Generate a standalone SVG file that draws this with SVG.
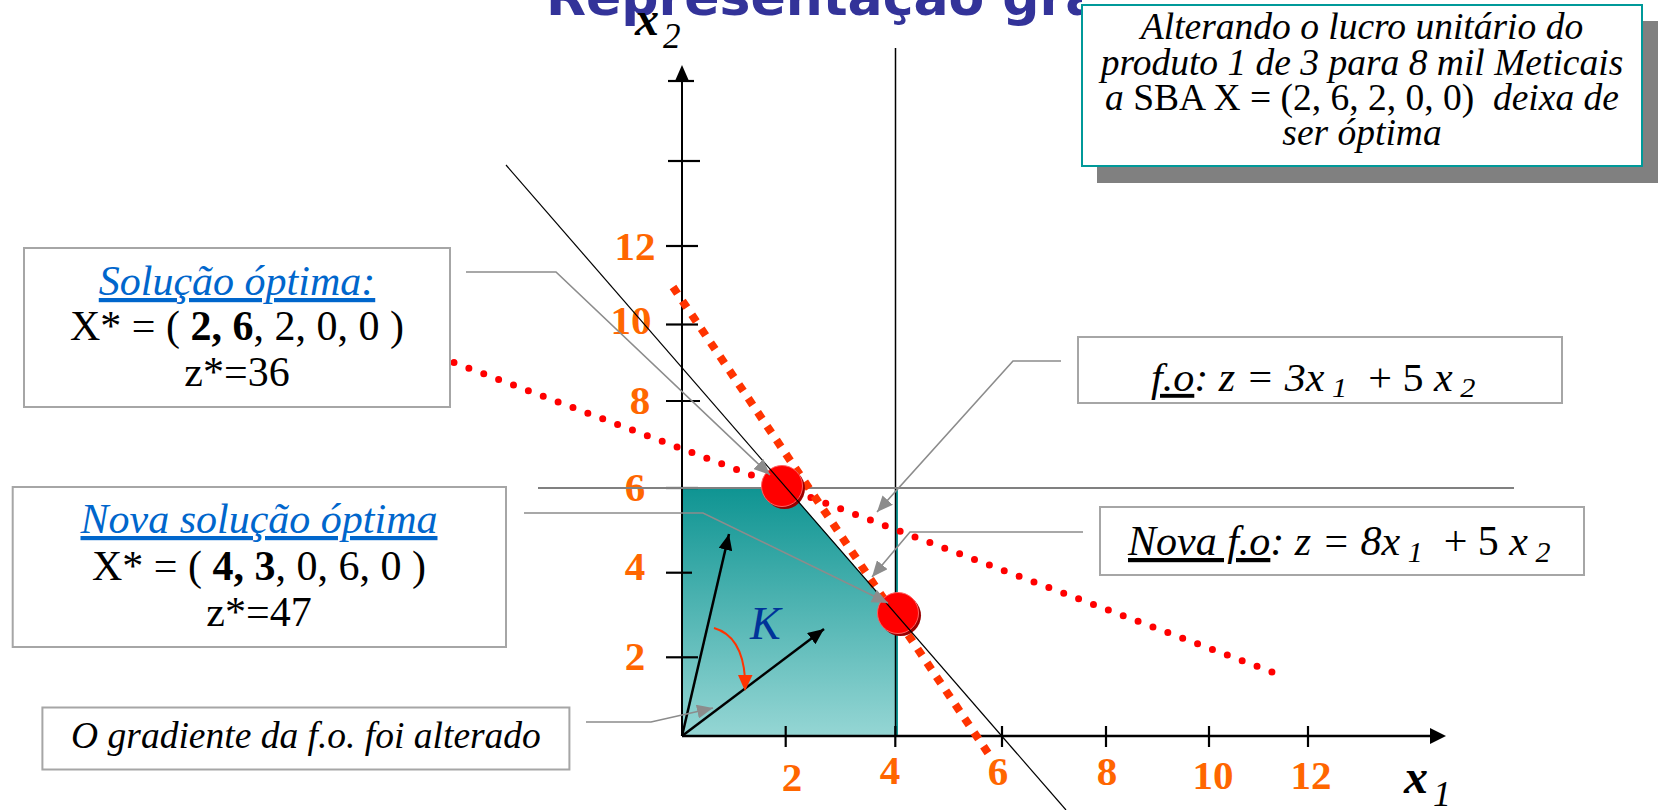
<svg xmlns="http://www.w3.org/2000/svg" width="1663" height="810" viewBox="0 0 1663 810">
<style>
.serif{font-family:"Liberation Serif","Times New Roman",serif;}
.it{font-style:italic;}
.tick{stroke:#000;stroke-width:2.2;}
.lab{font-family:"Liberation Serif","Times New Roman",serif;font-weight:bold;font-size:41px;fill:#FF6600;text-anchor:middle;}
.box{fill:#fff;stroke:#A6A6A6;stroke-width:2;}
.call{fill:none;stroke:#8C8C8C;stroke-width:1.6;}
</style>
<defs>
<linearGradient id="reg" x1="0" y1="0" x2="0" y2="1">
<stop offset="0" stop-color="#0E9492"/>
<stop offset="1" stop-color="#95D6D4"/>
</linearGradient>
<marker id="ga" markerUnits="userSpaceOnUse" markerWidth="18" markerHeight="14" refX="16" refY="7" orient="auto">
<path d="M0,0 L16,7 L0,14 z" fill="#8C8C8C"/>
</marker>
<marker id="ba" markerUnits="userSpaceOnUse" markerWidth="18" markerHeight="14" refX="16" refY="7" orient="auto">
<path d="M0,0 L16,7 L0,14 z" fill="#000"/>
</marker>
<clipPath id="tclip"><rect x="0" y="0" width="1082" height="60"/></clipPath>
</defs>

<g id="title" clip-path="url(#tclip)">
<text x="546" y="15" font-family="'DejaVu Sans',Verdana,sans-serif" font-weight="bold" font-size="52" fill="#333399">Representação gráfica</text>
</g>

<g id="region">
<polygon points="682,736 682,487 786,487 895.5,613 895.5,736" fill="url(#reg)"/>
<line x1="897" y1="487" x2="897" y2="736" stroke="#139A98" stroke-width="2"/>
</g>

<g id="axes">
<line x1="682" y1="736" x2="682" y2="78" stroke="#000" stroke-width="2"/>
<path d="M682,65 L675,81 L689,81 z" fill="#000"/>
<line x1="668" y1="81" x2="694" y2="81" class="tick"/>
<line x1="668" y1="161" x2="700" y2="161" class="tick"/>
<line x1="666" y1="246" x2="698" y2="246" class="tick"/>
<line x1="666" y1="324.5" x2="698" y2="324.5" class="tick"/>
<line x1="666" y1="401" x2="700" y2="401" class="tick"/>
<line x1="666" y1="488" x2="698" y2="488" class="tick"/>
<line x1="666" y1="572.7" x2="692" y2="572.7" class="tick"/>
<line x1="666" y1="657.3" x2="698" y2="657.3" class="tick"/>
<line x1="682" y1="736" x2="1432" y2="736" stroke="#000" stroke-width="2.5"/>
<path d="M1446,736 L1430,728 L1430,744 z" fill="#000"/>
<line x1="785.7" y1="726" x2="785.7" y2="747" class="tick"/>
<line x1="895.3" y1="726" x2="895.3" y2="747" class="tick"/>
<line x1="1002" y1="726" x2="1002" y2="747" class="tick"/>
<line x1="1106" y1="726" x2="1106" y2="747" class="tick"/>
<line x1="1209" y1="726" x2="1209" y2="747" class="tick"/>
<line x1="1308" y1="726" x2="1308" y2="747" class="tick"/>
<text class="lab" x="635" y="260">12</text>
<text class="lab" x="631" y="334">10</text>
<text class="lab" x="640" y="414">8</text>
<text class="lab" x="635" y="501">6</text>
<text class="lab" x="635" y="580">4</text>
<text class="lab" x="635" y="670">2</text>
<text class="lab" x="792" y="791">2</text>
<text class="lab" x="890" y="784">4</text>
<text class="lab" x="998" y="785">6</text>
<text class="lab" x="1107" y="785">8</text>
<text class="lab" x="1213" y="789">10</text>
<text class="lab" x="1311" y="789">12</text>
<text class="serif" x="635" y="35" font-size="48" font-weight="bold" font-style="italic">x</text>
<text class="serif it" x="663" y="48" font-size="35">2</text>
<text class="serif" x="1404" y="793" font-size="48" font-weight="bold" font-style="italic">x</text>
<text class="serif it" x="1433" y="806" font-size="36">1</text>
</g>

<g id="constraints">
<line x1="895.5" y1="48" x2="895.5" y2="736" stroke="#000" stroke-width="1.5"/>
<line x1="538" y1="488" x2="1514" y2="488" stroke="#808080" stroke-width="2"/>
</g>

<g id="objective-lines">
<line x1="454" y1="362.5" x2="1276" y2="673.5" stroke="#FF0000" stroke-width="7" stroke-linecap="round" stroke-dasharray="0 15.9"/>
<line x1="673" y1="287" x2="988" y2="753" stroke="#FF3300" stroke-width="8" stroke-dasharray="8 8.8"/>
</g>

<g id="optimum-1">
<circle cx="784.5" cy="488.5" r="20.5" fill="#990000"/>
<circle cx="782" cy="486" r="20.5" fill="#FF0000" stroke="#FF6060" stroke-width="1"/>
</g>
<g id="optimum-2">
<circle cx="900.5" cy="615.5" r="20.5" fill="#990000"/>
<circle cx="898" cy="613" r="20.5" fill="#FF0000" stroke="#FF6060" stroke-width="1"/>
</g>

<g id="constraint-diag">
<line x1="506" y1="165" x2="1066" y2="810" stroke="#000" stroke-width="1.2"/>
</g>

<g id="gradients">
<line x1="682" y1="736" x2="729" y2="534" stroke="#000" stroke-width="2.5" marker-end="url(#ba)"/>
<line x1="682" y1="736" x2="824" y2="629" stroke="#000" stroke-width="2.5" marker-end="url(#ba)"/>
<path d="M714,628 Q742,636 745,678" fill="none" stroke="#FF3300" stroke-width="2"/>
<path d="M738,675 L752.5,675 L745,691 z" fill="#FF3300"/>
<text x="750" y="639" font-family="'Liberation Serif','Times New Roman',serif" font-style="italic" font-size="46" fill="#003399">K</text>
</g>

<g id="connectors">
<polyline class="call" points="466,272 556,272 770,475" marker-end="url(#ga)"/>
<polyline class="call" points="524,513 703,513 888,603" marker-end="url(#ga)"/>
<polyline class="call" points="586,722 651,722 713,708" marker-end="url(#ga)"/>
<polyline class="call" points="1061,361 1013,361 877,512" marker-end="url(#ga)"/>
<polyline class="call" points="1083,532 910,532 872,577" marker-end="url(#ga)"/>
</g>

<g id="note-top">
<rect x="1097" y="21" width="561" height="162" fill="#808080"/>
<rect x="1082" y="5" width="560" height="161" fill="#fff" stroke="#009999" stroke-width="2"/>
<g class="serif" font-size="37.5" text-anchor="middle">
<text class="it" x="1362" y="39">Alterando o lucro unitário do</text>
<text class="it" x="1362" y="74.5">produto 1 de 3 para 8 mil Meticais</text>
<text x="1362" y="110" xml:space="preserve"><tspan font-style="italic">a </tspan>SBA X = (2, 6, 2, 0, 0)  <tspan font-style="italic">deixa de</tspan></text>
<text class="it" x="1362" y="145">ser óptima</text>
</g>
</g>

<g id="box-solucao">
<rect class="box" x="24" y="248" width="426" height="159"/>
<g class="serif" font-size="42" text-anchor="middle">
<text class="it" x="237" y="295" fill="#0066CC" text-decoration="underline">Solução óptima:</text>
<text x="237" y="340">X* = ( <tspan font-weight="bold">2, 6</tspan>, 2, 0, 0 )</text>
<text x="237" y="386">z*=36</text>
</g>
</g>

<g id="box-nova">
<rect class="box" x="12.7" y="487" width="493.3" height="160"/>
<g class="serif" font-size="42" text-anchor="middle">
<text class="it" x="259" y="533" fill="#0066CC" text-decoration="underline">Nova solução óptima</text>
<text x="259" y="580">X* = ( <tspan font-weight="bold">4, 3</tspan>, 0, 6, 0 )</text>
<text x="259" y="626">z*=47</text>
</g>
</g>

<g id="box-gradiente">
<rect class="box" x="42.4" y="707.5" width="527" height="62"/>
<text class="serif it" x="306" y="748" font-size="37.5" text-anchor="middle">O gradiente da f.o. foi alterado</text>
</g>

<g id="box-fo">
<rect class="box" x="1078" y="337" width="484" height="66"/>
<text class="serif it" transform="translate(1151 391) scale(1.08 1)" font-size="39" xml:space="preserve"><tspan text-decoration="underline">f.o</tspan>: z = 3x<tspan font-size="28" dy="6"> 1</tspan><tspan dy="-6" font-style="normal">  + 5 </tspan>x<tspan font-size="28" dy="6"> 2</tspan></text>
</g>

<g id="box-nova-fo">
<rect class="box" x="1100" y="507" width="484" height="68"/>
<text class="serif it" x="1128" y="555" font-size="42" xml:space="preserve"><tspan text-decoration="underline">Nova f.o</tspan>: z = 8x<tspan font-size="30" dy="7"> 1</tspan><tspan dy="-7" font-style="normal">  + 5 </tspan>x<tspan font-size="30" dy="7"> 2</tspan></text>
</g>
</svg>
